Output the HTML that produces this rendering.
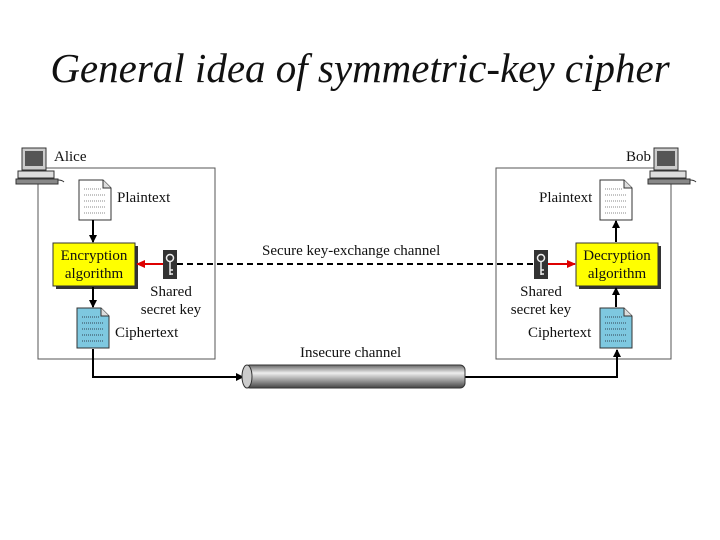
<!DOCTYPE html>
<html><head><style>
body{margin:0;width:720px;height:540px;background:#fff;overflow:hidden;position:relative;font-family:"Liberation Serif",serif}
.t{position:absolute;white-space:nowrap;font-size:15px;color:#111}
</style></head><body>
<div class="t" style="left:0;width:720px;text-align:center;top:44px;font-size:41px;font-style:italic">General idea of symmetric-key cipher</div>
<svg width="720" height="540" style="position:absolute;left:0;top:0">
<defs>
<marker id="a" markerWidth="8" markerHeight="8" refX="7" refY="4" orient="auto" markerUnits="userSpaceOnUse"><path d="M0,0L8,4L0,8z" fill="#000"/></marker>
<marker id="r" markerWidth="9" markerHeight="8" refX="8" refY="4" orient="auto" markerUnits="userSpaceOnUse"><path d="M0,0L9,4L0,8z" fill="#d00"/></marker>
<linearGradient id="p" x1="0" y1="0" x2="0" y2="1"><stop offset="0" stop-color="#666"/><stop offset=".35" stop-color="#eee"/><stop offset="1" stop-color="#444"/></linearGradient>
<g id="doc"><path d="M0,0H24L32,8V40H0Z" fill="#fff" stroke="#333"/><path d="M24,0V8H32" fill="#ddd" stroke="#333"/><g stroke="#888" stroke-dasharray="1,1"><line x1="5" y1="9" x2="22" y2="9"/><line x1="5" y1="15" x2="27" y2="15"/><line x1="5" y1="21" x2="27" y2="21"/><line x1="5" y1="27" x2="27" y2="27"/><line x1="5" y1="33" x2="27" y2="33"/></g></g>
<g id="cdoc"><path d="M0,0H24L32,8V40H0Z" fill="#7ec8e0" stroke="#333"/><path d="M24,0V8H32" fill="#ddd" stroke="#333"/><g stroke="#345" stroke-dasharray="1,1"><line x1="5" y1="9" x2="22" y2="9"/><line x1="5" y1="15" x2="27" y2="15"/><line x1="5" y1="21" x2="27" y2="21"/><line x1="5" y1="27" x2="27" y2="27"/><line x1="5" y1="33" x2="27" y2="33"/></g></g>
<g id="key"><rect width="14" height="29" fill="#333"/><circle cx="7" cy="8" r="3.5" fill="none" stroke="#eee" stroke-width="1.5"/><path d="M7,12V25M7,20H10M7,24H10" stroke="#eee" stroke-width="1.5"/></g>
<g id="pc"><rect x="6" y="0" width="24" height="22" fill="#ccc" stroke="#333"/><rect x="9" y="3" width="18" height="15" fill="#555"/><rect x="2" y="23" width="36" height="7" fill="#ddd" stroke="#333"/><rect x="0" y="31" width="42" height="5" fill="#888" stroke="#333"/><path d="M42,32q4,0 6,2" fill="none" stroke="#333"/></g>
</defs>
<rect x="38" y="168" width="177" height="191" fill="none" stroke="#555"/>
<rect x="496" y="168" width="175" height="191" fill="none" stroke="#555"/>
<use href="#pc" x="16" y="148"/><use href="#pc" x="648" y="148"/>
<use href="#doc" x="79" y="180"/><use href="#doc" x="600" y="180"/>
<use href="#cdoc" x="77" y="308"/><use href="#cdoc" x="600" y="308"/>
<rect x="56" y="246" width="82" height="43" fill="#333"/><rect x="53" y="243" width="82" height="43" fill="#ff0" stroke="#333"/>
<rect x="579" y="246" width="82" height="43" fill="#333"/><rect x="576" y="243" width="82" height="43" fill="#ff0" stroke="#333"/>
<use href="#key" x="163" y="250"/><use href="#key" x="534" y="250"/>
<line x1="177" y1="264" x2="533" y2="264" stroke="#000" stroke-width="2" stroke-dasharray="6,4"/>
<line x1="163" y1="264" x2="137" y2="264" stroke="#d00" stroke-width="2" marker-end="url(#r)"/>
<line x1="548" y1="264" x2="575" y2="264" stroke="#d00" stroke-width="2" marker-end="url(#r)"/>
<line x1="93" y1="220" x2="93" y2="242" stroke="#000" stroke-width="2" marker-end="url(#a)"/>
<line x1="93" y1="287" x2="93" y2="307" stroke="#000" stroke-width="2" marker-end="url(#a)"/>
<line x1="616" y1="242" x2="616" y2="221" stroke="#000" stroke-width="2" marker-end="url(#a)"/>
<line x1="616" y1="307" x2="616" y2="288" stroke="#000" stroke-width="2" marker-end="url(#a)"/>
<polyline points="93,349 93,377 243,377" fill="none" stroke="#000" stroke-width="2" marker-end="url(#a)"/>
<polyline points="465,377 617,377 617,350" fill="none" stroke="#000" stroke-width="2" marker-end="url(#a)"/>
<rect x="245" y="365" width="220" height="23" rx="5" fill="url(#p)" stroke="#333"/>
<ellipse cx="247" cy="376.5" rx="5" ry="11.5" fill="#ccc" stroke="#333"/>
</svg>
<div class="t" style="left:54px;top:149px">Alice</div>
<div class="t" style="left:626px;top:149px">Bob</div>
<div class="t" style="left:117px;top:190px">Plaintext</div>
<div class="t" style="left:539px;top:190px">Plaintext</div>
<div class="t" style="left:53px;top:247px;width:82px;text-align:center;line-height:18px">Encryption<br>algorithm</div>
<div class="t" style="left:576px;top:247px;width:82px;text-align:center;line-height:18px">Decryption<br>algorithm</div>
<div class="t" style="left:136px;top:283px;width:70px;text-align:center;line-height:18px">Shared<br>secret key</div>
<div class="t" style="left:506px;top:283px;width:70px;text-align:center;line-height:18px">Shared<br>secret key</div>
<div class="t" style="left:115px;top:325px">Ciphertext</div>
<div class="t" style="left:528px;top:325px">Ciphertext</div>
<div class="t" style="left:262px;top:243px">Secure key-exchange channel</div>
<div class="t" style="left:300px;top:345px">Insecure channel</div>
</body></html>
